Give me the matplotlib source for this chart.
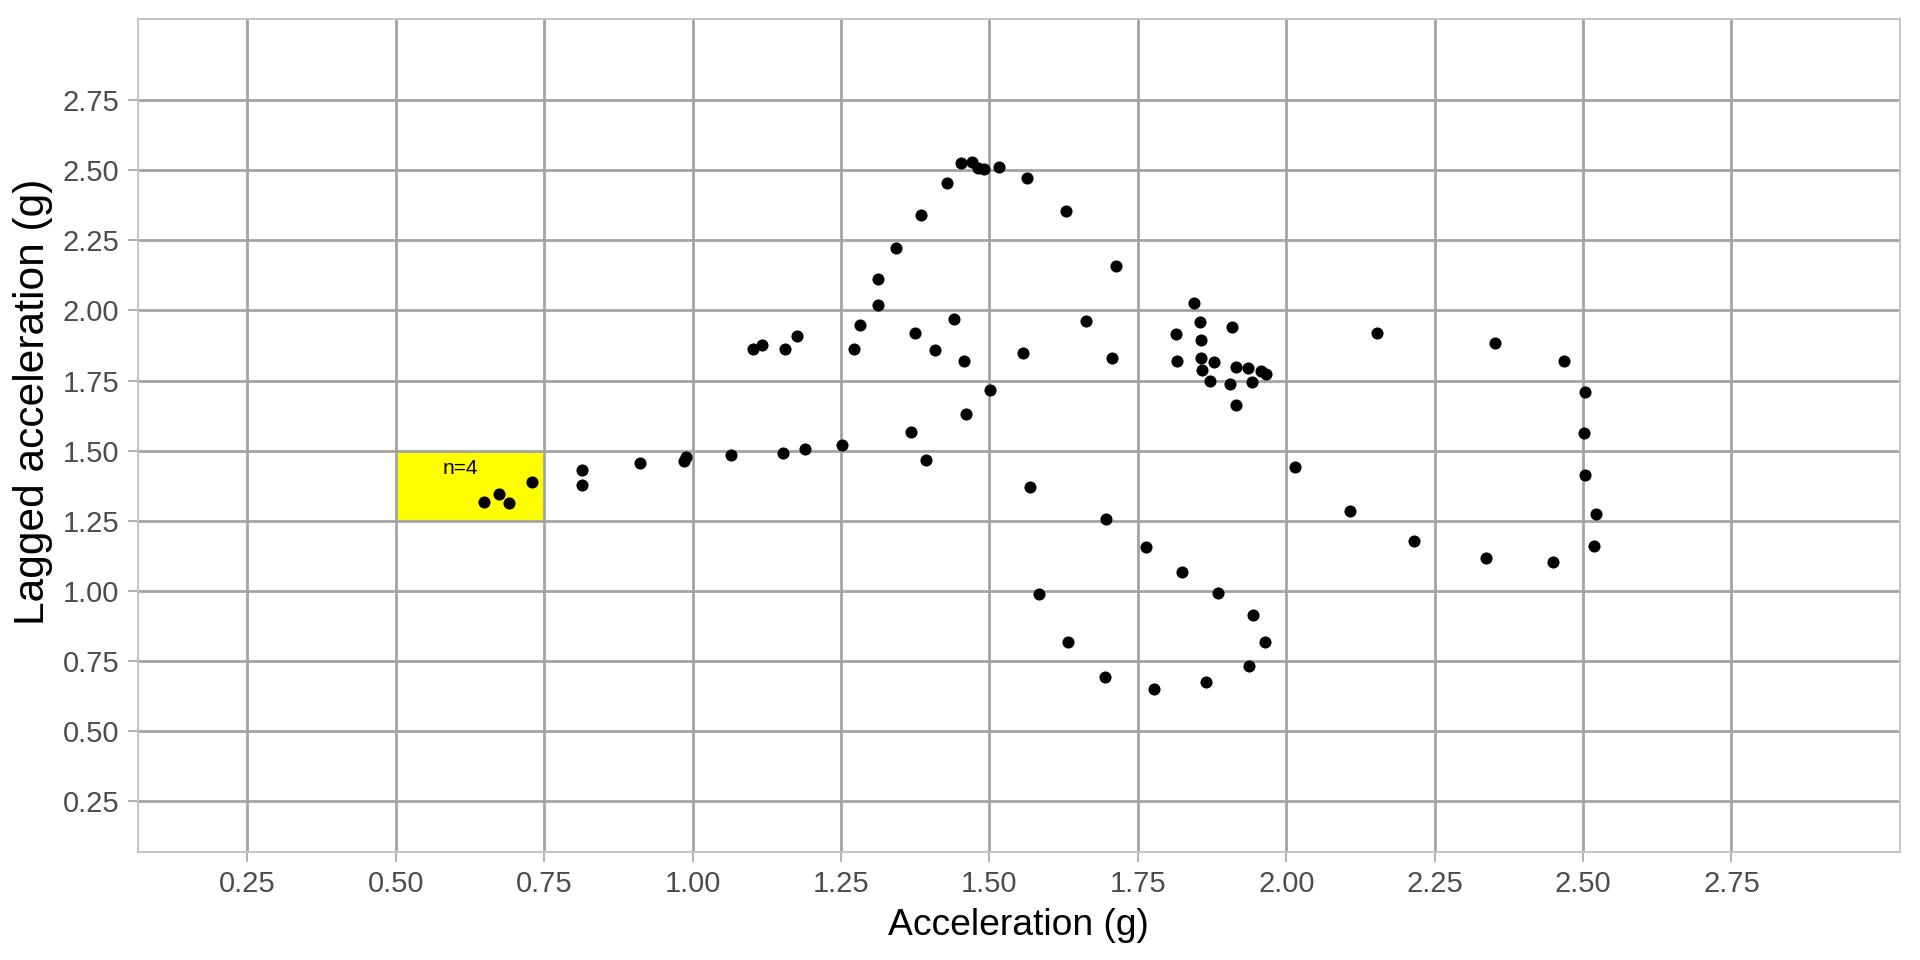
import matplotlib
matplotlib.use("Agg")
import matplotlib.pyplot as plt
from matplotlib.patches import Rectangle

plt.rcParams['font.family'] = ['Liberation Sans', 'DejaVu Sans']

# acceleration vs lagged acceleration (g)
accel = [0.648, 0.673, 0.690, 0.730, 0.814, 0.814, 0.912, 0.986, 0.989, 1.064,
         1.152, 1.190, 1.252, 1.101, 1.116, 1.156, 1.176, 1.271, 1.282, 1.312,
         1.312, 1.342, 1.385, 1.428, 1.452, 1.470, 1.481, 1.490, 1.516, 1.564,
         1.629, 1.713, 1.375, 1.440, 1.409, 1.457, 1.557, 1.501, 1.461, 1.367,
         1.393, 1.568, 1.662, 1.706, 1.844, 1.855, 1.909, 2.153, 1.814, 1.857,
         1.816, 1.856, 1.878, 1.858, 1.915, 1.935, 1.958, 1.966, 1.871, 1.905,
         1.942, 1.916, 2.351, 2.468, 2.503, 2.502, 2.504, 2.521, 2.519, 2.014,
         2.108, 1.697, 1.764, 2.216, 2.336, 2.449, 1.825, 1.583, 1.885, 1.944,
         1.632, 1.964, 1.938, 1.695, 1.864, 1.777]
lagged = [1.316, 1.346, 1.314, 1.389, 1.431, 1.379, 1.455, 1.464, 1.476, 1.483,
          1.492, 1.505, 1.521, 1.863, 1.875, 1.862, 1.909, 1.862, 1.947, 2.020,
          2.113, 2.221, 2.341, 2.455, 2.526, 2.529, 2.508, 2.505, 2.510, 2.474,
          2.356, 2.158, 1.920, 1.969, 1.860, 1.819, 1.849, 1.716, 1.632, 1.567,
          1.466, 1.369, 1.964, 1.832, 2.027, 1.957, 1.940, 1.920, 1.915, 1.894,
          1.820, 1.831, 1.815, 1.788, 1.800, 1.795, 1.783, 1.772, 1.749, 1.737,
          1.746, 1.664, 1.883, 1.820, 1.709, 1.561, 1.412, 1.275, 1.158, 1.443,
          1.285, 1.256, 1.155, 1.178, 1.118, 1.104, 1.066, 0.990, 0.992, 0.913,
          0.816, 0.816, 0.730, 0.691, 0.674, 0.649]

# highlighted cell
box_x = (0.50, 0.75)
box_y = (1.25, 1.50)
box_label = "n=4"

ticks = [0.25, 0.50, 0.75, 1.00, 1.25, 1.50, 1.75, 2.00, 2.25, 2.50, 2.75]
tick_labels = [f"{t:.2f}" for t in ticks]

fig = plt.figure(figsize=(9.6, 4.8), dpi=200)
ax = fig.add_axes([0.0717, 0.1125, 0.9179, 0.8675])

ax.add_patch(Rectangle((box_x[0], box_y[0]), box_x[1] - box_x[0], box_y[1] - box_y[0],
                       facecolor='#ffff00', edgecolor='none', zorder=0.3))
ax.text(0.609, 1.435, box_label, fontsize=7.5, ha='center', va='center', color='black', zorder=3)

ax.scatter(accel, lagged, s=19, color='black', linewidths=0, zorder=2)

ax.set_xlim(0.065, 3.034)
ax.set_ylim(0.068, 3.039)
ax.set_xticks(ticks)
ax.set_xticklabels(tick_labels)
ax.set_yticks(ticks)
ax.set_yticklabels(tick_labels)

ax.set_axisbelow(True)
ax.grid(True, color='#a3a3a3', linewidth=1.0)
for s in ax.spines.values():
    s.set_color('#c4c4c4')
    s.set_linewidth(0.7)
ax.tick_params(axis='both', length=3.6, width=0.6, color='#a3a3a3',
               labelsize=10.5, labelcolor='#4d4d4d', pad=3.0)

ax.set_xlabel("Acceleration (g)", fontsize=13.4, color='black', labelpad=3.5)
ax.set_ylabel("Lagged acceleration (g)", fontsize=15.3, color='black', labelpad=3.5)
ax.yaxis.label.set_y(0.54)

fig.savefig("out.png", dpi=200, facecolor='white')
plt.close(fig)
